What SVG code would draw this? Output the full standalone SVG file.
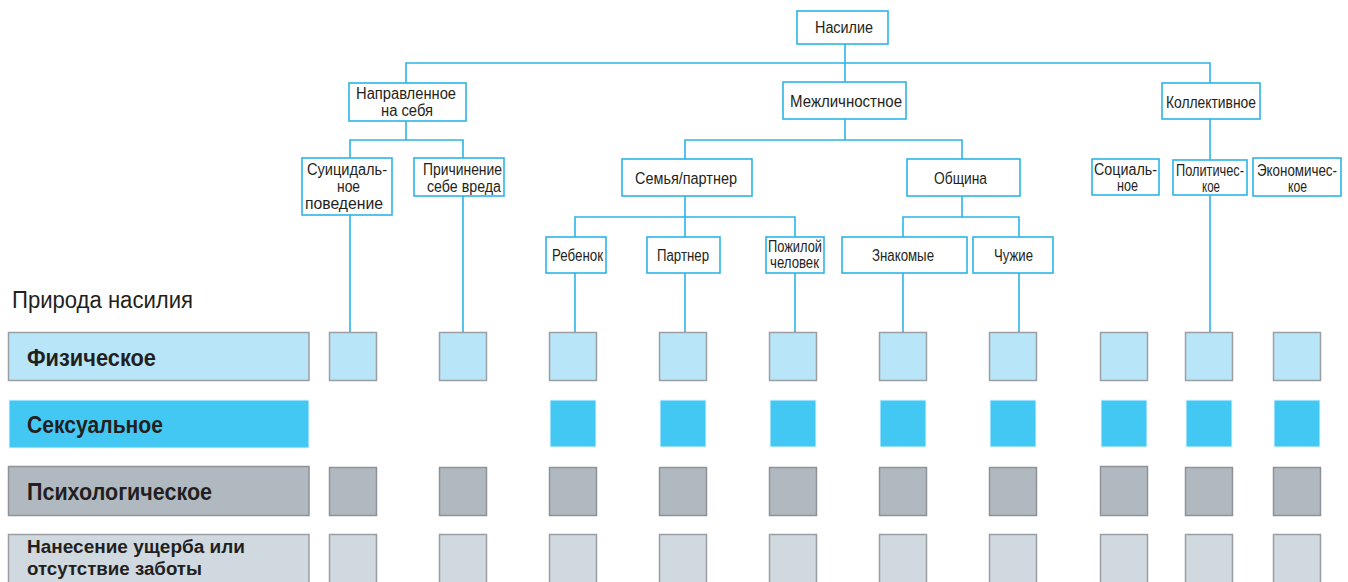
<svg xmlns="http://www.w3.org/2000/svg" width="1348" height="582" viewBox="0 0 1348 582">
<style>
.n rect{fill:#fff;stroke:#2bb5e6;stroke-width:1.6}
.n text{font-family:"Liberation Sans",Arial,sans-serif;font-size:16px;fill:#231f20}
#connectors path{fill:none;stroke:#2bb5e6;stroke-width:1.6}
.lbl{font-family:"Liberation Sans",Arial,sans-serif;font-weight:bold;fill:#231f20}
.phy{fill:#b9e5f8;stroke:#9c9fa2;stroke-width:1.5}
.sex{fill:#43c8f4;stroke:#e8f8ff;stroke-width:1}
.psy{fill:#b1b9c0;stroke:#8e9296;stroke-width:1.5}
.neg{fill:#d0d9e0;stroke:#9a9ea2;stroke-width:1.5}
</style>
<rect width="1348" height="582" fill="#fff"/>
<g id="connectors">
<path d="M845 44V82"/>
<path d="M406 83V63H1210V83"/>
<path d="M406 121V140M350 158V140H463V158"/>
<path d="M845 119V140M685 159V140H962V159"/>
<path d="M685 196V217M575 237V217H795V237M685 217V237"/>
<path d="M962 196V217M903 237V217H1019V237"/>
<path d="M1210 119V160"/>
<path d="M350 215V332M463 196V332M575 273V332M685 273V332M795 273V332M903 273V332M1019 273V332M1210 195V332"/>
</g>
<g id="n-nasilie" class="n"><rect x="797" y="11" width="91" height="33"/><text x="815" y="33" textLength="58" lengthAdjust="spacingAndGlyphs">Насилие</text></g>
<g id="n-self" class="n"><rect x="349" y="83" width="117" height="38"/><text x="356" y="99" textLength="100" lengthAdjust="spacingAndGlyphs">Направленное</text><text x="381" y="116" textLength="52" lengthAdjust="spacingAndGlyphs">на себя</text></g>
<g id="n-inter" class="n"><rect x="783" y="82" width="123" height="37"/><text x="790" y="107" textLength="112" lengthAdjust="spacingAndGlyphs">Межличностное</text></g>
<g id="n-coll" class="n"><rect x="1162" y="83" width="98" height="36"/><text x="1166" y="108" textLength="90" lengthAdjust="spacingAndGlyphs">Коллективное</text></g>
<g id="n-suic" class="n"><rect x="302" y="158" width="90" height="57"/><text x="307" y="175" textLength="80" lengthAdjust="spacingAndGlyphs">Суицидаль-</text><text x="337" y="192" textLength="23" lengthAdjust="spacingAndGlyphs">ное</text><text x="305" y="209" textLength="78" lengthAdjust="spacingAndGlyphs">поведение</text></g>
<g id="n-harm" class="n"><rect x="414" y="158" width="90" height="38"/><text x="423" y="175" textLength="79" lengthAdjust="spacingAndGlyphs">Причинение</text><text x="427" y="192" textLength="74" lengthAdjust="spacingAndGlyphs">себе вреда</text></g>
<g id="n-family" class="n"><rect x="622" y="159" width="130" height="37"/><text x="635" y="184" textLength="102" lengthAdjust="spacingAndGlyphs">Семья/партнер</text></g>
<g id="n-comm" class="n"><rect x="907" y="159" width="113" height="37"/><text x="934" y="184" textLength="53" lengthAdjust="spacingAndGlyphs">Община</text></g>
<g id="n-soc" class="n"><rect x="1092" y="159" width="67" height="36"/><text x="1094" y="175" textLength="63" lengthAdjust="spacingAndGlyphs">Социаль-</text><text x="1117" y="191" textLength="21" lengthAdjust="spacingAndGlyphs">ное</text></g>
<g id="n-pol" class="n"><rect x="1173" y="160" width="74" height="35"/><text x="1176" y="176" textLength="68" lengthAdjust="spacingAndGlyphs">Политичес-</text><text x="1202" y="192" textLength="18" lengthAdjust="spacingAndGlyphs">кое</text></g>
<g id="n-eco" class="n"><rect x="1253" y="158" width="88" height="38"/><text x="1257" y="176" font-size="14.5" textLength="80" lengthAdjust="spacingAndGlyphs">Экономичес-</text><text x="1288" y="192" textLength="19" lengthAdjust="spacingAndGlyphs">кое</text></g>
<g id="n-child" class="n"><rect x="546" y="237" width="60" height="36"/><text x="552" y="261" textLength="51" lengthAdjust="spacingAndGlyphs">Ребенок</text></g>
<g id="n-partner" class="n"><rect x="647" y="237" width="73" height="36"/><text x="657" y="261" textLength="52" lengthAdjust="spacingAndGlyphs">Партнер</text></g>
<g id="n-elder" class="n"><rect x="766" y="237" width="58" height="36"/><text x="768" y="252" textLength="54" lengthAdjust="spacingAndGlyphs">Пожилой</text><text x="770" y="268" textLength="49" lengthAdjust="spacingAndGlyphs">человек</text></g>
<g id="n-acq" class="n"><rect x="842" y="237" width="125" height="36"/><text x="872" y="261" textLength="62" lengthAdjust="spacingAndGlyphs">Знакомые</text></g>
<g id="n-str" class="n"><rect x="973" y="237" width="80" height="36"/><text x="994" y="261" textLength="39" lengthAdjust="spacingAndGlyphs">Чужие</text></g>
<g id="legend">
<text x="12" y="308" font-family="Liberation Sans,Arial,sans-serif" font-size="23" fill="#231f20" textLength="181" lengthAdjust="spacingAndGlyphs">Природа насилия</text>
<rect class="phy" x="8.5" y="332.5" width="300.5" height="48"/>
<text class="lbl" x="27" y="366" font-size="23" textLength="129" lengthAdjust="spacingAndGlyphs">Физическое</text>
<rect class="sex" x="9" y="400" width="300" height="48"/>
<text class="lbl" x="27" y="433" font-size="23" textLength="136" lengthAdjust="spacingAndGlyphs">Сексуальное</text>
<rect class="psy" x="8.5" y="466.5" width="300.5" height="49"/>
<text class="lbl" x="27" y="500" font-size="23" textLength="185" lengthAdjust="spacingAndGlyphs">Психологическое</text>
<rect class="neg" x="8.5" y="534.5" width="300.5" height="50"/>
<text class="lbl" x="27" y="553" font-size="18" textLength="218" lengthAdjust="spacingAndGlyphs">Нанесение ущерба или</text>
<text class="lbl" x="27" y="575" font-size="18" textLength="175" lengthAdjust="spacingAndGlyphs">отсутствие заботы</text>
</g>
<g id="grid">
<g id="row-phy">
<rect class="phy" x="329.5" y="332.5" width="47" height="48"/><rect class="phy" x="439.5" y="332.5" width="47" height="48"/><rect class="phy" x="549.5" y="332.5" width="47" height="48"/><rect class="phy" x="659.5" y="332.5" width="47" height="48"/><rect class="phy" x="769.5" y="332.5" width="47" height="48"/><rect class="phy" x="879.5" y="332.5" width="47" height="48"/><rect class="phy" x="989.5" y="332.5" width="47" height="48"/><rect class="phy" x="1100.5" y="332.5" width="47" height="48"/><rect class="phy" x="1185.5" y="332.5" width="47" height="48"/><rect class="phy" x="1273.5" y="332.5" width="47" height="48"/>
</g>
<g id="row-sex">
<rect class="sex" x="550" y="400" width="46" height="47"/><rect class="sex" x="660" y="400" width="46" height="47"/><rect class="sex" x="770" y="400" width="46" height="47"/><rect class="sex" x="880" y="400" width="46" height="47"/><rect class="sex" x="990" y="400" width="46" height="47"/><rect class="sex" x="1101" y="400" width="46" height="47"/><rect class="sex" x="1186" y="400" width="46" height="47"/><rect class="sex" x="1274" y="400" width="46" height="47"/>
</g>
<g id="row-psy">
<rect class="psy" x="329.5" y="467.5" width="47" height="48"/><rect class="psy" x="439.5" y="467.5" width="47" height="48"/><rect class="psy" x="549.5" y="467.5" width="47" height="48"/><rect class="psy" x="659.5" y="467.5" width="47" height="48"/><rect class="psy" x="769.5" y="467.5" width="47" height="48"/><rect class="psy" x="879.5" y="467.5" width="47" height="48"/><rect class="psy" x="989.5" y="467.5" width="47" height="48"/><rect class="psy" x="1100.5" y="466.5" width="47" height="49"/><rect class="psy" x="1185.5" y="467.5" width="47" height="48"/><rect class="psy" x="1273.5" y="467.5" width="47" height="48"/>
</g>
<g id="row-neg">
<rect class="neg" x="329.5" y="534.5" width="47" height="50"/><rect class="neg" x="439.5" y="534.5" width="47" height="50"/><rect class="neg" x="549.5" y="534.5" width="47" height="50"/><rect class="neg" x="659.5" y="534.5" width="47" height="50"/><rect class="neg" x="769.5" y="534.5" width="47" height="50"/><rect class="neg" x="879.5" y="534.5" width="47" height="50"/><rect class="neg" x="989.5" y="534.5" width="47" height="50"/><rect class="neg" x="1100.5" y="534.5" width="47" height="50"/><rect class="neg" x="1185.5" y="534.5" width="47" height="50"/><rect class="neg" x="1273.5" y="534.5" width="47" height="50"/>
</g>
</g>
</svg>
